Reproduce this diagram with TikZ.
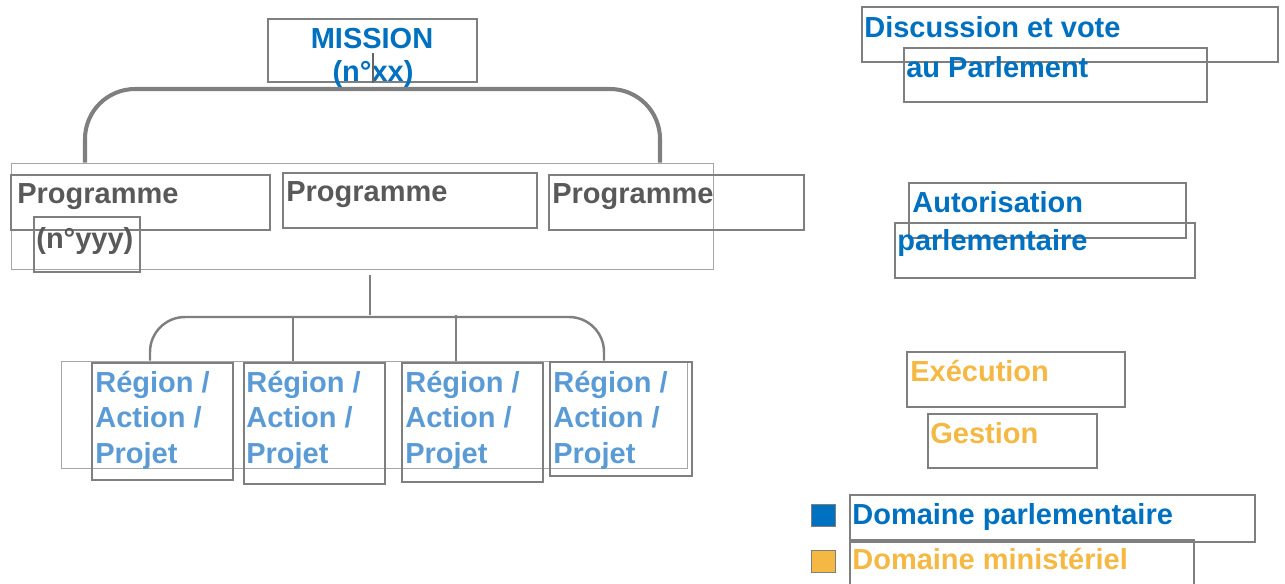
\documentclass[tikz,border=0pt]{standalone}
\usepackage{fontspec}
\setmainfont{Liberation Sans}
\usepackage{xcolor}
\usetikzlibrary{positioning, fit}
\definecolor{ParlBlue}{HTML}{0070C0}
\definecolor{ActionBlue}{HTML}{5B9BD5}
\definecolor{MinGold}{HTML}{F4B843}
\definecolor{ProgGray}{HTML}{595959}
\definecolor{FrameGray}{HTML}{7F7F7F}
\definecolor{PaleGray}{HTML}{A6A6A6}

\begin{document}
\begin{tikzpicture}[x=0.02cm, y=-0.02cm,
    frame/.style={draw=FrameGray, line width=0.9pt, inner sep=0pt},
    outer/.style={draw=PaleGray, line width=0.5pt, inner sep=0pt},
    txt/.style={anchor=base west, inner sep=0pt, font=\bfseries\fontsize{16.5}{20}\selectfont},
    trunk/.style={draw=FrameGray, line width=2.3pt, rounded corners=1cm},
    branch/.style={draw=FrameGray, line width=1.4pt, rounded corners=0.7cm},
    swatch/.style={draw=FrameGray, line width=0.4pt, inner sep=0pt}]
    \useasboundingbox (0,0) rectangle (1285,583);

    % Mission
    \node[frame, fit={(268,19) (477,82)}] (mission) {};
    \node[txt, anchor=base, ParlBlue] (missionT) at (372,48) {MISSION};
    \node[txt, anchor=base, ParlBlue] (missionN) at (373,81) {(n°xx)};
    \coordinate (tick) at (373,53);
    \draw[FrameGray!80!black, line width=0.6pt] (tick) -- (tick |- mission.south);

    % Programmes
    \node[outer, fit={(11,163) (713,269)}] (progs) {};
    \node[frame, fit={(11,175) (270,230)}] (prog1) {};
    \node[frame, fit={(34,217) (140,272)}] (prog1n) {};
    \node[frame, fit={(283,173) (537,228)}] (prog2) {};
    \node[frame, fit={(549,175) (804,230)}] (prog3) {};
    \node[txt, ProgGray] (prog1T) at (17,203) {Programme};
    \node[txt, ProgGray] (prog1N) at (36,248) {(n°yyy)};
    \node[txt, ProgGray] (prog2T) at (286,201) {Programme};
    \node[txt, ProgGray] (prog3T) at (552,203) {Programme};

    \coordinate (legL) at (85,89);
    \coordinate (legR) at (660,89);
    \draw[trunk] (progs.north -| legL) -- (legL) -- (legR) -- (progs.north -| legR);

    % Regions / actions / projets
    \node[outer, fit={(61,361) (687,468)}] (acts) {};
    \foreach \n/\xa/\ya/\xb/\yb/\xt in {1/92/363/233/480/95, 2/244/363/385/484/246,
                                       3/402/363/543/482/405, 4/550/362/692/476/553} {
      \node[frame, fit={(\xa,\ya) (\xb,\yb)}] (reg\n) {};
      \node[txt, ActionBlue] (reg\n a) at (\xt,392) {Région /};
      \node[txt, ActionBlue] (reg\n b) at (\xt,427) {Action /};
      \node[txt, ActionBlue] (reg\n c) at (\xt,463) {Projet};
    }

    \coordinate (stemTop) at (370,275);
    \coordinate (stemBot) at (370,315);
    \coordinate (barL) at (150,317);
    \coordinate (barR) at (604,317);
    \draw[branch] (stemTop) -- (stemBot);
    \draw[branch] (acts.north -| barL) -- (barL) -- (barR) -- (acts.north -| barR);
    \draw[branch] (293,317) -- (293,361);
    \draw[branch] (456,315) -- (456,361);

    % Right column
    \node[frame, fit={(862,7) (1278,62)}] (vote) {};
    \node[frame, fit={(904,48) (1207,102)}] (voteB) {};
    \node[txt, ParlBlue] (voteT) at (864,37) {Discussion et vote};
    \node[txt, ParlBlue] (voteBT) at (906,77) {au Parlement};

    \node[frame, fit={(909,183) (1186,238)}] (autor) {};
    \node[frame, fit={(895,223) (1195,278)}] (autorB) {};
    \node[txt, ParlBlue] (autorT) at (912,212) {Autorisation};
    \node[txt, ParlBlue] (autorBT) at (897,250) {parlementaire};

    \node[frame, fit={(907,352) (1125,407)}] (exec) {};
    \node[frame, fit={(928,414) (1097,468)}] (gest) {};
    \node[txt, MinGold] (execT) at (910,381) {Exécution};
    \node[txt, MinGold] (gestT) at (930,443) {Gestion};

    % Legend
    \node[swatch, fill=ParlBlue, fit={(811,504) (835,526)}] (keyParl) {};
    \node[swatch, fill=MinGold, fit={(811,550) (835,572)}] (keyMin) {};
    \node[frame, fit={(850,495) (1255,542)}] (keyParlBox) {};
    \node[frame, fit={(850,540) (1194,600)}] (keyMinBox) {};
    \node[txt, ParlBlue] (keyParlT) at (852,524) {Domaine parlementaire};
    \node[txt, MinGold] (keyMinT) at (852,569) {Domaine ministériel};
\end{tikzpicture}
\end{document}
